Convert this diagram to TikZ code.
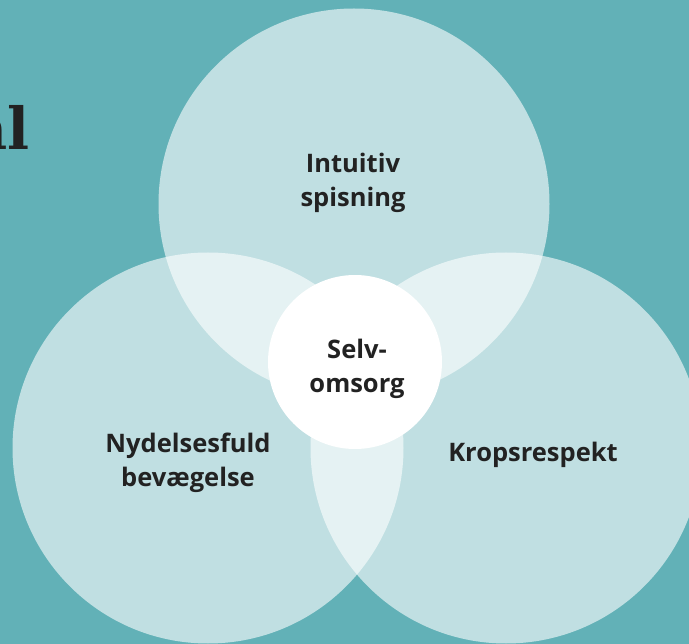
\documentclass[tikz,border=0pt]{standalone}
\usepackage{fontspec}
\setmainfont{Open Sans}
\newfontfamily\slabfont{DejaVu Serif}
\usetikzlibrary{positioning}
\definecolor{selfTeal}{RGB}{98, 177, 183}
\definecolor{selfText}{RGB}{34, 34, 34}

\begin{document}
\begin{tikzpicture}[x=1pt, y=-1pt,
    bigcircle/.style={circle, fill=white, fill opacity=0.6, minimum size=391pt, inner sep=0pt},
    corecircle/.style={circle, fill=white, minimum size=174pt, inner sep=0pt},
    circlelabel/.style={text=selfText, font=\fontsize{25.5}{34}\selectfont\bfseries, align=center}]
        % background
        \fill[selfTeal] (0,0) rectangle (689,644);
        \useasboundingbox (0,0) rectangle (689,644);
        \begin{scope}
            \clip (0,0) rectangle (689,644);
            \node[anchor=base east, text=selfText, font=\slabfont\fontsize{58}{58}\selectfont\bfseries, inner sep=0pt] (headline) at (30,150) {nl};
        \end{scope}
        % the three circles
        \node[bigcircle] (intuitiv) at (354,204) {};
        \node[bigcircle] (nydelse) at (208,448) {};
        \node[bigcircle] (krop) at (506,448) {};
        \node[corecircle] (selv) at (355,362) {};
        % labels
        \node[circlelabel] (intuitivtext) at (353,183) {Intuitiv\\spisning};
        \node[circlelabel] (nydelsetext) at (188,463) {Nydelsesfuld\\bevægelse};
        \node[circlelabel] (kroptext) at (533,455) {Kropsrespekt};
        \node[circlelabel] (selvtext) at (357,369) {Selv-\\omsorg};
    \end{tikzpicture}
\end{document}
